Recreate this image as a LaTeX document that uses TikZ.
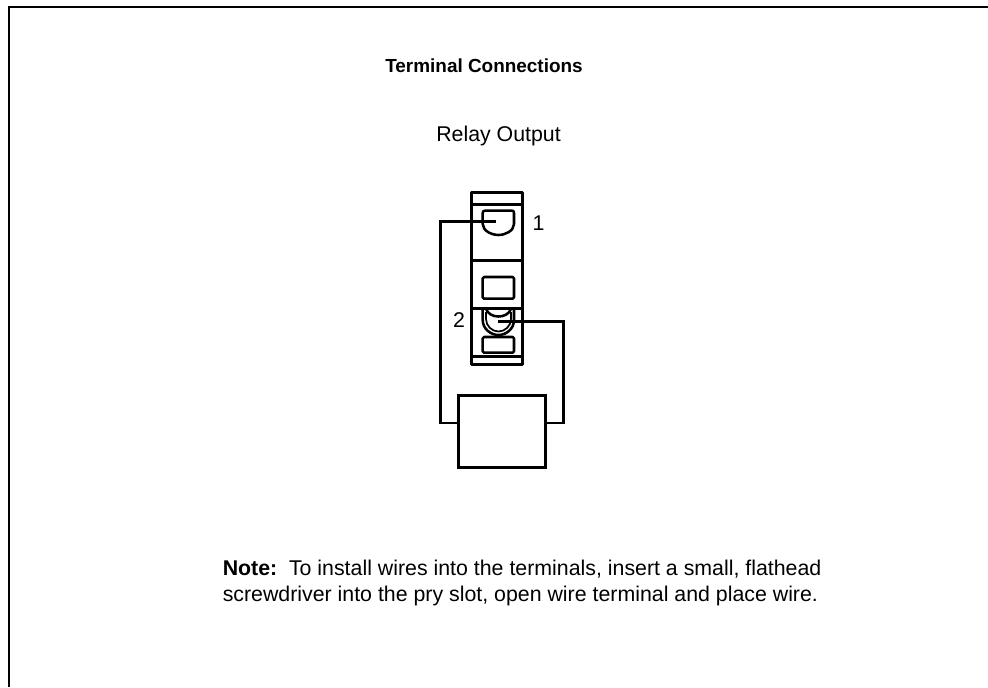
\documentclass[tikz,border=0pt]{standalone}
\usepackage{fontspec}
\setmainfont{Liberation Sans}
\tikzset{
  px/.style={x=0.75pt,y=-0.75pt},
  ln/.style={line width=1.9pt,line join=round},
  wire/.style={line width=1.9pt,line join=miter},
  txt/.style={font=\fontsize{16pt}{19pt}\selectfont,inner sep=0pt,text=black},
  ttl/.style={font=\fontsize{14.2pt}{17pt}\selectfont\bfseries,inner sep=0pt,text=black}
}
\begin{document}
\begin{tikzpicture}[px]
\useasboundingbox (0,0) rectangle (988,687);
\draw[line width=1.9pt] (9,687) -- (9,7) -- (988,7);
\node[ttl,anchor=base] (title) at (484,72) {Terminal Connections};
\node[txt,anchor=base] (sub) at (498.5,141.5) {Relay Output};
% module
\draw[ln] (471.6,192.4) rectangle (522.4,364.4);
\draw[ln] (471.6,204.5) -- (522.4,204.5);
\draw[ln] (471.6,260.4) -- (522.4,260.4);
\draw[ln] (471.6,308.4) -- (522.4,308.4);
\draw[ln] (471.6,356.4) -- (522.4,356.4);
\draw[ln] (482.7,213) .. controls (482.7,211) and (483.5,210.7) .. (485,210.7) -- (512,210.7) .. controls (513.5,210.7) and (514,211) .. (514,213) -- (514,224) .. controls (514,231) and (505,235) .. (498.5,235) .. controls (492,235) and (482.7,231) .. (482.7,224) -- cycle;
\draw[ln,rounded corners=1pt] (482.7,277) rectangle (514,298.7);
\draw[ln,rounded corners=1pt] (482.7,337) rectangle (514,352.7);
\draw[ln] (482.7,310) -- (482.7,320) .. controls (482.7,329) and (491,335) .. (498.5,335) .. controls (506,335) and (514,329) .. (514,320) -- (514,310);
\draw[ln] (486,309) .. controls (488,314) and (493,316.5) .. (498.5,316.5) .. controls (504,316.5) and (509,314) .. (511,309);
\draw[line width=1.3pt] (486,312) -- (486,319) .. controls (486,326) and (492,331.5) .. (498.5,331.5) .. controls (505,331.5) and (511,326) .. (511,319) -- (511,312);
% load
\node[draw,line width=2pt,outer sep=0pt,minimum width=65.25pt,minimum height=54pt,inner sep=0pt,anchor=north west] (load) at (458.4,395.4) {};
\coordinate (t1) at (496,221.5);
\coordinate (t2) at (498,321.7);
\draw[wire] (t1) -- (440.3,221.5) -- (440.3,423) -- (load.west |- 0,423);
\draw[wire] (t2) -- (563.5,321.7) -- (563.5,423) -- (load.east |- 0,423);
\node[txt,anchor=base] (n1) at (538.5,230) {1};
\node[txt,anchor=base] (n2) at (459,327) {2};
\node[txt,anchor=base west] (note1) at (222.5,575.7) {\textbf{Note:}\hspace{0.55em}To install wires into the terminals, insert a small, flathead};
\node[txt,anchor=base west] (note2) at (222.5,601.7) {screwdriver into the pry slot, open wire terminal and place wire.};
\end{tikzpicture}
\end{document}
